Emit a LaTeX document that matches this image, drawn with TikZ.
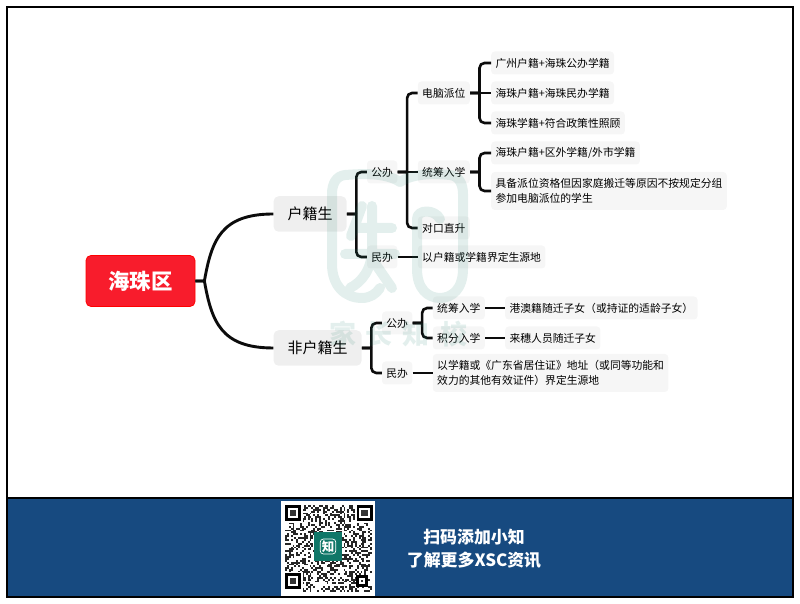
\documentclass[tikz,border=0pt]{standalone}
\usepackage{fontspec}
\setmainfont{Noto Sans CJK SC}
\usepackage{tikz}
\usetikzlibrary{positioning}
\definecolor{mapred}{HTML}{F81C2C}
\definecolor{mapline}{HTML}{0C0C0C}
\definecolor{boxgrey}{HTML}{F6F6F6}
\definecolor{topgrey}{HTML}{EFEFEF}
\definecolor{barblue}{HTML}{174A80}
\definecolor{logoteal}{HTML}{0F7768}
\definecolor{markteal}{HTML}{2A8573}
\newcommand{\qrsquare}[3]{%
  \fill[black] (#1,#2) rectangle ++(#3,-#3);
  \fill[white] (#1+2.6,#2-2.6) rectangle ++(#3-5.2,-#3+5.2);
  \fill[black!80] (#1+4.6,#2-4.6) rectangle ++(#3-9.2,-#3+9.2);
}

\begin{document}
\begin{tikzpicture}[
    x=1pt, y=1pt,
    punkt/.style = {rectangle, rounded corners=3.5pt, fill=boxgrey, inner xsep=4.4pt, inner ysep=0pt,
      minimum height=23pt, align=left, font=\fontsize{10.8}{14.4}\selectfont},
    topic/.style = {punkt, fill=topgrey, rounded corners=5pt, inner xsep=14pt, minimum height=35.5pt,
      font=\fontsize{15}{18}\selectfont},
    centre/.style = {rectangle, rounded corners=5pt, draw=red, fill=mapred, text=white, line width=.8pt,
      minimum width=109pt, minimum height=51pt, font=\fontsize{21.4}{24}\selectfont\bfseries},
    pil/.style = {mapline, line width=2.6pt},
    stem/.style = {to path={-- (\tikztotarget.west)}},
    fork/.style = {rounded corners=5pt, to path={-- ([xshift=9.5pt]\tikztostart.east)
      ([xshift=9.5pt]\tikztostart.east) |- (\tikztotarget.west)}},
    bigfork/.style = {to path={-- ([xshift=9pt]\tikztostart.east)
      .. controls +(#1:42pt) and +(-52pt,0pt) .. (\tikztotarget.west)}},
    markline/.style = {markteal, draw opacity=.13, line width=10pt, line cap=round, line join=round}
    ]

  \useasboundingbox (0,0) rectangle (800,604);

  % map
  \node[centre] (haizhu) at (140.5,323) {海珠区};
  \node[topic] (huji) [right=78pt of haizhu, yshift=67pt] {户籍生};
  \node[topic] (feihuji) [right=78pt of haizhu, yshift=-67pt] {非户籍生};

  \node[punkt] (gong1) [right=20pt of huji, yshift=42pt] {公办};
  \node[punkt] (min1) [right=20pt of huji, yshift=-43pt] {民办};

  \node[punkt] (diannao) [right=20pt of gong1, yshift=79pt] {电脑派位};
  \node[punkt] (tongchou1) [right=20pt of gong1] {统筹入学};
  \node[punkt] (duikou) [right=20pt of gong1, yshift=-56pt] {对口直升};
  \node[punkt] (jieding1) [right=20pt of min1] {以户籍或学籍界定生源地};

  \node[punkt] (leaf1) [right=21pt of diannao, yshift=30pt] {广州户籍+海珠公办学籍};
  \node[punkt] (leaf2) [right=21pt of diannao] {海珠户籍+海珠民办学籍};
  \node[punkt] (leaf3) [right=21pt of diannao, yshift=-30pt] {海珠学籍+符合政策性照顾};
  \node[punkt] (leaf4) [right=21pt of tongchou1, yshift=19pt] {海珠户籍+区外学籍/外市学籍};
  \node[punkt, minimum height=38pt] (leaf5) [right=21pt of tongchou1, yshift=-19pt]
    {具备派位资格但因家庭搬迁等原因不按规定分组\\参加电脑派位的学生};

  \node[punkt] (gong2) [right=20pt of feihuji, yshift=25pt] {公办};
  \node[punkt] (min2) [right=20pt of feihuji, yshift=-25pt] {民办};
  \node[punkt] (tongchou2) [right=20pt of gong2, yshift=15pt] {统筹入学};
  \node[punkt] (jifen) [right=20pt of gong2, yshift=-15pt] {积分入学};
  \node[punkt] (leaf6) [right=20pt of tongchou2] {港澳籍随迁子女（或持证的适龄子女）};
  \node[punkt] (leaf7) [right=20pt of jifen] {来穗人员随迁子女};
  \node[punkt, minimum height=38pt] (jieding2) [right=20pt of min2]
    {以学籍或《广东省居住证》地址（或同等功能和\\效力的其他有效证件）界定生源地};

  \draw[pil, line width=2.9pt]
  (haizhu) edge[bigfork=80] (huji)
  (haizhu) edge[bigfork=-80] (feihuji) ;

  \draw[pil]
  (huji) edge[fork] (gong1)
  (huji) edge[fork] (min1)
  (feihuji) edge[fork] (gong2)
  (feihuji) edge[fork] (min2)

  (gong1) edge[fork] (diannao)
  (gong1) edge[stem] (tongchou1)
  (gong1) edge[fork] (duikou)
  (min1) edge[stem] (jieding1)

  (diannao) edge[fork] (leaf1)
  (diannao) edge[stem] (leaf2)
  (diannao) edge[fork] (leaf3)
  (tongchou1) edge[fork] (leaf4)
  (tongchou1) edge[fork] (leaf5)

  (gong2) edge[fork] (tongchou2)
  (gong2) edge[fork] (jifen)
  (min2) edge[stem] (jieding2)
  (tongchou2) edge[stem] (leaf6)
  (jifen) edge[stem] (leaf7) ;

  % footer
  \fill[barblue] (7,106) rectangle (793,7);
  \draw[black, line width=1.3pt] (7,597) rectangle (793,7);
  \draw[black, line width=1.3pt] (7,106) -- (793,106);
  \node[text=white, align=center, font=\fontsize{16.9}{23}\selectfont\bfseries] (slogan) at (474,55.5)
    {扫码添加小知\\了解更多XSC资讯};

  % qr code
  \fill[white] (281,103) rectangle (375,8);
  \pgfmathsetseed{4711}
  \foreach \qrx in {0,...,45} {
    \foreach \qry in {0,...,45} {
      \pgfmathtruncatemacro{\qrbit}{rnd<0.42 ? 1 : 0}
      \ifnum\qrbit=1
        \fill[black!85] (285+\qrx*1.89,99-\qry*1.89) rectangle ++(1.89,-1.89);
      \fi
    }
  }
  \fill[white] (284,100) rectangle (303,81);
  \fill[white] (355,100) rectangle (374,81);
  \fill[white] (284,32) rectangle (303,12);
  \qrsquare{285}{99}{16}
  \qrsquare{356.5}{99}{16}
  \qrsquare{285}{31}{16}
  \qrsquare{356}{29}{12}
  \node[rectangle, fill=logoteal, minimum width=28pt, minimum height=29pt, inner sep=0pt] (qrlogo) at (328,57.5) {};
  \node[rectangle, rounded corners=3pt, draw=white, line width=.7pt, text=white, inner sep=1.5pt,
    font=\fontsize{12.5}{13}\selectfont\bfseries] (qrmark) at (qrlogo) {知};

  % watermark
  \draw[markline]
  (400,422) .. controls (385,432) and (360,430) .. (345,429) .. controls (336,428) and (332,420) .. (332,410)
  -- (332,340) .. controls (332,318) and (345,306) .. (362,306) .. controls (370,306) and (376,310) .. (380,316)
  (400,422) .. controls (415,432) and (440,430) .. (450,429) .. controls (459,428) and (463,420) .. (463,410)
  -- (463,335) .. controls (463,315) and (452,306) .. (440,306) .. controls (428,306) and (417,315) .. (417,335)
  -- (417,385) .. controls (417,395) and (435,395) .. (440,385)
  (362,398) -- (351,368)
  (355,376) -- (392,376)
  (345,350) -- (395,350)
  (372,398) -- (372,355) .. controls (372,335) and (362,322) .. (350,316)
  (372,345) -- (392,316) ;
  \node[text=markteal, text opacity=.13, font=\fontsize{27}{30}\selectfont\bfseries] (markname) at (398,270)
    {家\hspace{10pt}长\hspace{10pt}知\hspace{10pt}校};
\end{tikzpicture}
\end{document}
